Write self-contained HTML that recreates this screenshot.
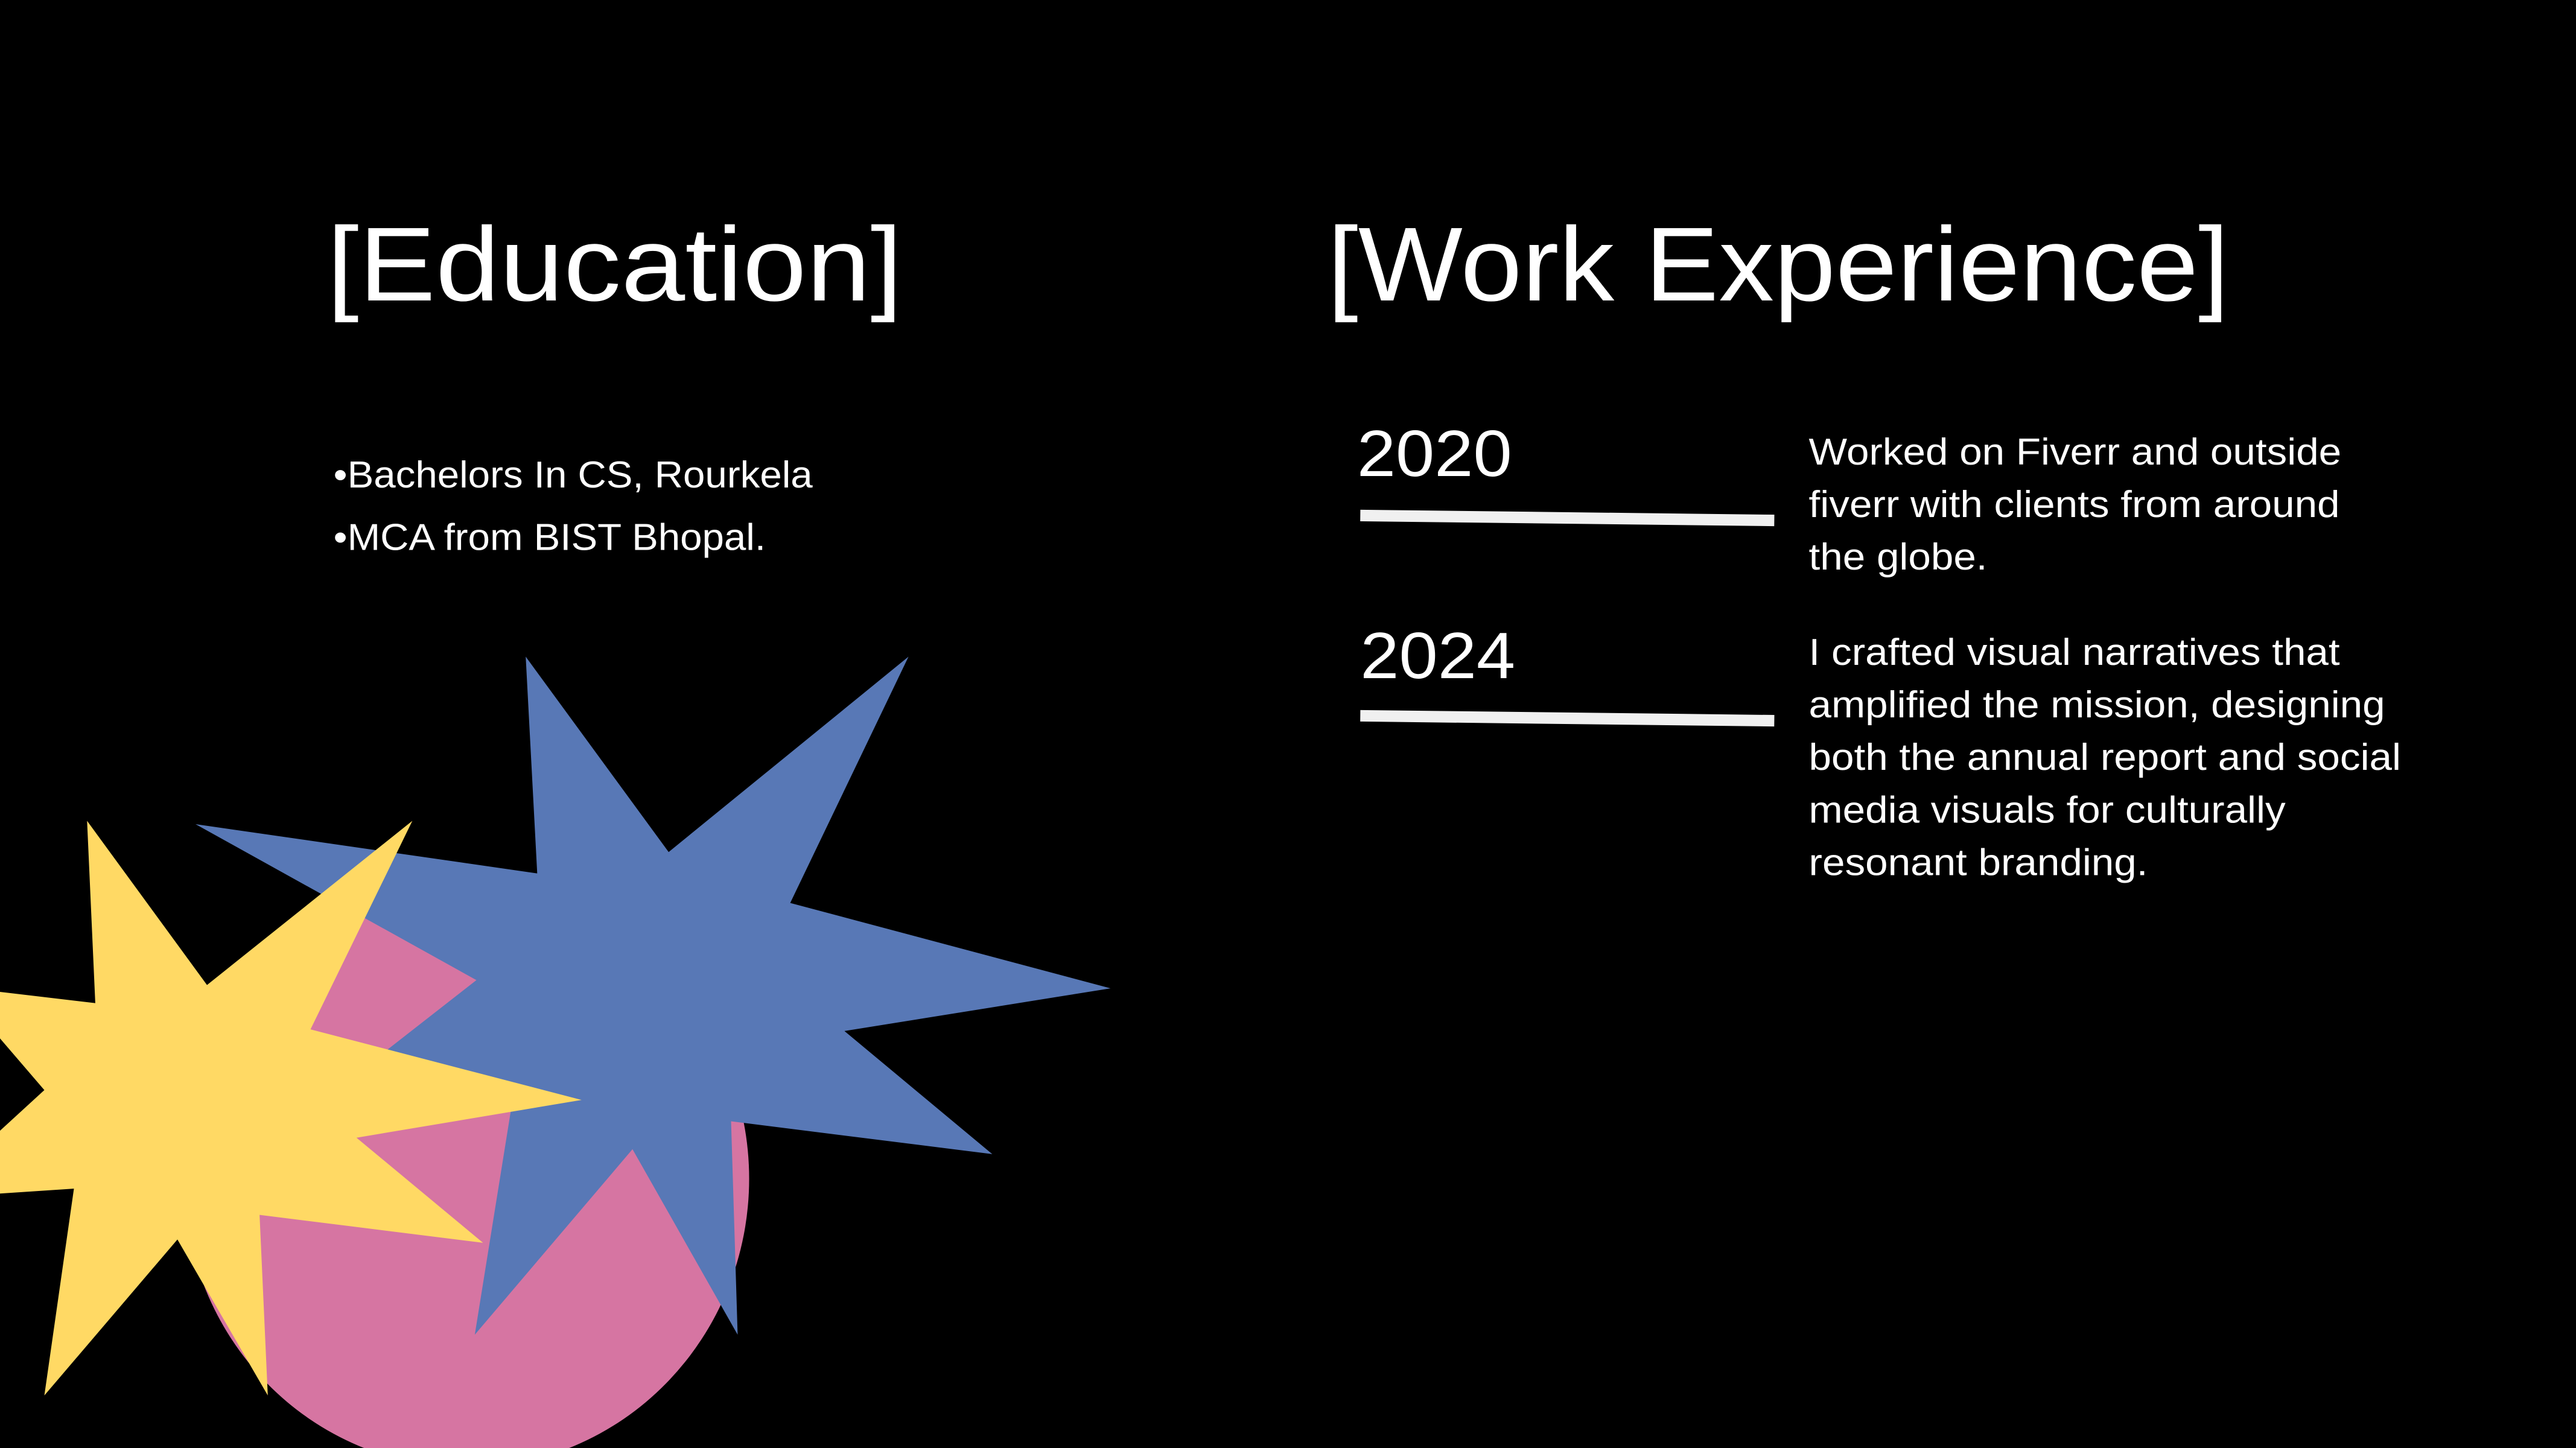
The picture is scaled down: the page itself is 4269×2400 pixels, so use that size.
<!DOCTYPE html>
<html><head><meta charset="utf-8"><style>
html,body{margin:0;padding:0;background:#000;width:4269px;height:2400px;overflow:hidden}
#s{position:absolute;left:0;top:0;width:1568px;height:882px;transform:scale(2.72258,2.72109);transform-origin:0 0;font-family:"Liberation Sans",sans-serif;color:#fff}
.t{position:absolute;white-space:nowrap;transform-origin:0 0}
</style></head><body>
<div id="s">
<svg width="1568" height="882" style="position:absolute;left:0;top:0">
<ellipse cx="284" cy="718" rx="172" ry="176" fill="#d675a2"/>
<polygon fill="#5878b6" points="320,400 407,519 553,400 481,550 676,602 514,628 604,703 445,683 449,813 385,700 289,813 312,670 235,640 290,597 119,502 327,532"/>
<polygon fill="#ffd964" points="53,500 126,600 251,500 189,627 354,670 217,693 294,757 158,740 163,850 108,755 27,850 45,724 -45,730 27,664 -27,601 58,611"/>
<path d="M828 314 L1080 317" stroke="#f0f0f0" stroke-width="7" stroke-linecap="butt"/>
<path d="M828 436 L1080 439" stroke="#f0f0f0" stroke-width="7" stroke-linecap="butt"/>
</svg>
<div class="t" style="left:199px;top:124px;font-size:64px;transform:scaleX(1.094)">[Education]</div>
<div class="t" style="left:808px;top:124px;font-size:64px;transform:scaleX(1.052)">[Work Experience]</div>
<div class="t" style="left:203px;top:276px;font-size:23px;transform:scaleX(1.045)">•Bachelors In CS, Rourkela</div>
<div class="t" style="left:203px;top:314px;font-size:23px;transform:scaleX(1.045)">•MCA from BIST Bhopal.</div>
<div class="t" style="left:826px;top:255px;font-size:40px;transform:scaleX(1.06)">2020</div>
<div class="t" style="left:828px;top:378px;font-size:40px;transform:scaleX(1.06)">2024</div>
<div class="t" style="left:1101px;top:259px;font-size:23px;line-height:32px;transform:scaleX(1.076)">Worked on Fiverr and outside<br>fiverr with clients from around<br>the globe.</div>
<div class="t" style="left:1101px;top:381px;font-size:23px;line-height:32px;transform:scaleX(1.076)">I crafted visual narratives that<br>amplified the mission, designing<br>both the annual report and social<br>media visuals for culturally<br>resonant branding.</div>
</div>
</body></html>
